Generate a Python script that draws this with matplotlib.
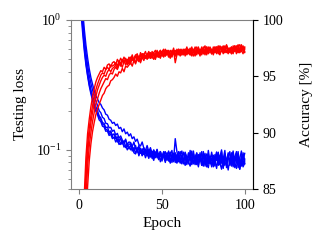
import numpy as np
import matplotlib
matplotlib.use("Agg")
import matplotlib.pyplot as plt

plt.rcParams['font.family'] = ['Liberation Serif', 'DejaVu Serif']
plt.rcParams['mathtext.fontset'] = 'stix'
plt.rcParams['font.size'] = 10

epochs = list(range(101))

# testing loss, five runs
loss_1 = [2.30, 1.30, 0.88, 0.62, 0.47, 0.38, 0.32, 0.28, 0.25, 0.225, 0.205,
          0.19, 0.178, 0.17, 0.158, 0.155, 0.144, 0.142, 0.133, 0.137, 0.126,
          0.124, 0.128, 0.115, 0.121, 0.11, 0.114, 0.117, 0.104, 0.109, 0.102,
          0.109, 0.098, 0.104, 0.094, 0.101, 0.092, 0.103, 0.09, 0.098, 0.093,
          0.099, 0.088, 0.097, 0.086, 0.095, 0.089, 0.1, 0.085, 0.093, 0.082,
          0.094, 0.097, 0.083, 0.091, 0.096, 0.08, 0.09, 0.095, 0.079, 0.092,
          0.084, 0.078, 0.096, 0.088, 0.077, 0.093, 0.083, 0.098, 0.078, 0.088,
          0.094, 0.076, 0.09, 0.082, 0.097, 0.075, 0.087, 0.093, 0.079, 0.086,
          0.074, 0.092, 0.083, 0.096, 0.077, 0.089, 0.072, 0.094, 0.08, 0.087,
          0.097, 0.076, 0.09, 0.079, 0.094, 0.073, 0.086, 0.098, 0.077, 0.085]
loss_2 = [2.10, 1.15, 0.80, 0.58, 0.45, 0.37, 0.31, 0.27, 0.24, 0.215, 0.198,
          0.186, 0.17, 0.165, 0.152, 0.15, 0.139, 0.14, 0.129, 0.132, 0.122,
          0.125, 0.115, 0.121, 0.11, 0.113, 0.117, 0.105, 0.109, 0.1, 0.106,
          0.1, 0.107, 0.095, 0.093, 0.104, 0.09, 0.099, 0.091, 0.097, 0.087,
          0.095, 0.086, 0.1, 0.089, 0.083, 0.096, 0.087, 0.094, 0.081, 0.091,
          0.088, 0.08, 0.095, 0.086, 0.079, 0.092, 0.084, 0.122, 0.097, 0.085,
          0.079, 0.09, 0.083, 0.076, 0.089, 0.081, 0.075, 0.087, 0.093, 0.078,
          0.085, 0.074, 0.091, 0.08, 0.075, 0.088, 0.078, 0.073, 0.086, 0.092,
          0.077, 0.084, 0.072, 0.088, 0.079, 0.071, 0.087, 0.076, 0.083, 0.07,
          0.085, 0.075, 0.091, 0.073, 0.08, 0.088, 0.071, 0.084, 0.074, 0.079]
loss_3 = [2.50, 1.45, 0.95, 0.66, 0.5, 0.4, 0.335, 0.29, 0.26, 0.235, 0.215,
          0.2, 0.183, 0.176, 0.162, 0.16, 0.148, 0.15, 0.137, 0.14, 0.129,
          0.133, 0.122, 0.126, 0.116, 0.123, 0.111, 0.115, 0.118, 0.106, 0.11,
          0.112, 0.101, 0.098, 0.108, 0.096, 0.104, 0.094, 0.102, 0.092, 0.1,
          0.09, 0.099, 0.088, 0.097, 0.086, 0.096, 0.091, 0.084, 0.097, 0.087,
          0.095, 0.083, 0.09, 0.098, 0.082, 0.089, 0.094, 0.08, 0.088, 0.097,
          0.082, 0.091, 0.078, 0.096, 0.086, 0.08, 0.099, 0.077, 0.09, 0.084,
          0.095, 0.079, 0.088, 0.076, 0.093, 0.085, 0.077, 0.099, 0.081, 0.076,
          0.091, 0.08, 0.096, 0.077, 0.088, 0.1, 0.075, 0.09, 0.082, 0.095,
          0.078, 0.092, 0.074, 0.088, 0.097, 0.079, 0.071, 0.09, 0.083, 0.094]
loss_4 = [2.60, 1.60, 1.05, 0.74, 0.56, 0.45, 0.375, 0.325, 0.288, 0.26, 0.237,
          0.22, 0.2, 0.193, 0.178, 0.174, 0.16, 0.159, 0.148, 0.149, 0.139,
          0.142, 0.13, 0.134, 0.123, 0.128, 0.119, 0.114, 0.121, 0.11, 0.115,
          0.114, 0.106, 0.115, 0.102, 0.099, 0.108, 0.097, 0.095, 0.104, 0.093,
          0.102, 0.092, 0.098, 0.089, 0.099, 0.087, 0.095, 0.086, 0.097, 0.084,
          0.096, 0.085, 0.094, 0.082, 0.092, 0.099, 0.081, 0.09, 0.08, 0.091,
          0.097, 0.083, 0.079, 0.094, 0.088, 0.078, 0.093, 0.082, 0.098, 0.077,
          0.089, 0.08, 0.095, 0.076, 0.086, 0.094, 0.074, 0.089, 0.079, 0.096,
          0.082, 0.075, 0.093, 0.088, 0.077, 0.097, 0.073, 0.088, 0.081, 0.092,
          0.076, 0.087, 0.098, 0.079, 0.072, 0.091, 0.084, 0.075, 0.095, 0.082]
loss_5 = [2.80, 1.80, 1.20, 0.85, 0.64, 0.51, 0.42, 0.36, 0.32, 0.285, 0.26,
          0.247, 0.23, 0.224, 0.21, 0.203, 0.188, 0.185, 0.172, 0.169, 0.16,
          0.163, 0.154, 0.158, 0.146, 0.149, 0.138, 0.145, 0.133, 0.137, 0.128,
          0.133, 0.122, 0.126, 0.116, 0.121, 0.11, 0.107, 0.115, 0.103, 0.099,
          0.108, 0.097, 0.104, 0.094, 0.1, 0.092, 0.101, 0.089, 0.097, 0.087,
          0.097, 0.088, 0.093, 0.084, 0.095, 0.086, 0.094, 0.083, 0.092, 0.081,
          0.09, 0.098, 0.082, 0.089, 0.079, 0.095, 0.086, 0.078, 0.093, 0.083,
          0.077, 0.092, 0.082, 0.097, 0.076, 0.087, 0.093, 0.078, 0.089, 0.074,
          0.088, 0.081, 0.096, 0.076, 0.091, 0.079, 0.085, 0.099, 0.073, 0.088,
          0.083, 0.095, 0.076, 0.089, 0.08, 0.097, 0.074, 0.086, 0.092, 0.078]

# test accuracy [%], same five runs
acc_1 = [40.0, 66.0, 78.5, 84.5, 87.8, 89.9, 91.2, 92.3, 93.2, 93.9, 94.5,
         94.9, 95.2, 95.5, 95.4, 95.8, 95.6, 96.0, 96.1, 95.8, 96.2,
         96.3, 96.0, 96.5, 96.2, 96.6, 96.3, 96.7, 96.4, 96.2, 96.7,
         96.5, 96.9, 96.4, 96.8, 97.0, 96.5, 97.1, 96.7, 96.9, 97.2,
         96.7, 97.1, 96.6, 97.2, 96.9, 96.6, 97.3, 97.0, 96.7, 97.2,
         97.4, 96.8, 97.1, 96.7, 97.3, 97.0, 97.5, 96.8, 97.2, 96.9,
         97.4, 97.0, 97.3, 96.8, 97.5, 97.1, 96.9, 97.6, 97.1, 97.3,
         96.9, 97.5, 97.1, 97.6, 97.0, 97.4, 96.9, 97.6, 97.3, 97.0,
         97.6, 97.1, 97.4, 97.7, 97.0, 97.3, 97.6, 97.1, 97.7, 97.2,
         97.5, 97.0, 97.7, 97.2, 97.5, 97.8, 97.1, 97.4, 97.7, 97.2]
acc_2 = [35.0, 60.0, 75.0, 82.5, 86.6, 88.9, 90.4, 91.5, 92.4, 93.1, 93.8,
         94.3, 94.7, 95.1, 95.3, 95.2, 95.6, 95.8, 95.6, 96.0, 95.9,
         96.0, 96.2, 95.9, 96.4, 96.1, 96.5, 96.2, 96.6, 96.3, 96.1,
         96.7, 96.4, 96.6, 96.9, 96.5, 96.8, 96.4, 97.0, 96.9, 96.6,
         96.9, 97.2, 96.7, 96.9, 97.1, 97.3, 96.7, 97.1, 97.3, 96.8,
         97.0, 97.4, 96.9, 97.2, 97.0, 96.8, 97.3, 96.2, 96.9, 97.4,
         97.2, 96.9, 97.4, 97.1, 97.6, 97.0, 97.3, 97.1, 96.8, 97.4,
         97.6, 97.1, 97.3, 96.9, 97.4, 97.7, 97.0, 97.3, 97.5, 97.0,
         97.3, 97.6, 97.1, 97.3, 97.7, 97.5, 97.0, 97.3, 97.8, 97.4,
         97.1, 97.6, 97.2, 97.5, 97.0, 97.6, 97.8, 97.2, 97.5, 97.4]
acc_3 = [30.0, 56.0, 72.5, 81.0, 85.6, 88.1, 89.7, 90.9, 91.8, 92.6, 93.2,
         93.8, 94.2, 94.6, 94.9, 95.1, 95.0, 95.4, 95.6, 95.4, 95.7,
         95.8, 96.0, 95.7, 96.2, 95.9, 96.3, 96.4, 96.0, 96.5, 96.3,
         96.1, 96.7, 96.4, 96.3, 96.8, 96.6, 96.3, 97.0, 96.6, 96.8,
         97.0, 96.6, 97.1, 96.8, 96.5, 97.0, 97.2, 96.7, 97.3, 96.9,
         96.7, 97.1, 97.3, 96.9, 96.6, 97.3, 97.0, 96.8, 97.4, 97.1,
         96.8, 97.3, 97.0, 97.4, 96.9, 97.2, 97.5, 97.0, 97.2, 96.8,
         97.4, 97.2, 96.8, 97.5, 97.0, 97.3, 97.6, 97.0, 97.2, 97.4,
         96.9, 97.4, 97.6, 97.1, 96.9, 97.4, 97.7, 97.1, 97.3, 97.0,
         97.4, 97.6, 97.1, 97.3, 97.7, 97.1, 97.5, 97.3, 97.0, 97.6]
acc_4 = [25.0, 50.0, 68.0, 78.5, 84.0, 87.0, 88.8, 90.0, 91.0, 91.8, 92.5,
         93.0, 93.5, 93.9, 94.2, 94.5, 94.8, 94.7, 95.1, 95.3, 95.2,
         95.6, 95.8, 95.6, 96.0, 96.1, 95.8, 96.3, 96.4, 96.0, 96.5,
         96.3, 96.6, 96.4, 96.8, 96.5, 96.3, 96.9, 96.6, 97.0, 96.6,
         96.8, 97.1, 96.9, 96.6, 97.1, 96.8, 97.2, 96.7, 97.0, 97.2,
         96.8, 97.0, 97.3, 97.1, 96.8, 97.1, 97.3, 96.9, 97.1, 97.4,
         97.1, 96.9, 97.3, 97.4, 97.0, 97.2, 96.9, 97.4, 97.2, 97.6,
         97.2, 97.0, 97.4, 97.2, 97.6, 97.0, 97.4, 97.1, 97.6, 97.3,
         97.1, 97.6, 97.0, 97.4, 97.6, 97.2, 97.3, 97.7, 97.1, 97.5,
         97.3, 97.0, 97.5, 97.7, 97.3, 97.1, 97.5, 97.8, 97.3, 97.1]
acc_5 = [20.0, 45.0, 64.0, 75.0, 81.5, 85.2, 87.5, 89.0, 90.1, 90.9, 91.6,
         92.1, 92.5, 92.9, 93.3, 93.5, 93.9, 94.1, 94.2, 94.6, 94.7,
         94.9, 95.2, 95.0, 95.4, 95.3, 95.7, 95.4, 95.9, 95.8, 96.0,
         96.2, 95.9, 96.4, 96.1, 96.5, 96.6, 96.2, 96.7, 96.4, 96.8,
         96.5, 96.9, 96.6, 97.0, 96.8, 96.5, 97.1, 96.9, 96.6, 97.1,
         97.2, 96.8, 97.0, 97.3, 96.9, 96.7, 97.2, 97.3, 96.9, 97.3,
         97.0, 97.4, 96.9, 97.2, 97.0, 97.4, 97.2, 96.8, 97.4, 97.0,
         97.2, 97.6, 97.0, 97.2, 97.4, 96.9, 97.6, 97.2, 97.4, 97.0,
         97.3, 97.1, 97.6, 97.0, 97.4, 97.6, 97.1, 97.3, 97.7, 97.1,
         97.5, 97.3, 97.0, 97.7, 97.3, 97.5, 97.1, 97.7, 97.3, 97.5]

losses = [loss_1, loss_2, loss_3, loss_4, loss_5]
accs = [acc_1, acc_2, acc_3, acc_4, acc_5]

fig = plt.figure(figsize=(3.32, 2.49), dpi=100)
ax = fig.add_axes([0.214, 0.241, 0.548, 0.679])
ax2 = ax.twinx()

for l in losses:
    ax.plot(epochs, l, color='blue', lw=1)
for a in accs:
    ax2.plot(epochs, a, color='red', lw=1)

ax.set_yscale('log')
ax.set_ylim(0.05, 1)
ax.set_xlim(-5, 105)
ax.set_xticks([0, 50, 100])
ax2.set_ylim(85, 100)
ax2.set_yticks([85, 90, 95, 100])

ax.set_xlabel('Epoch', fontsize=11)
ax.set_ylabel('Testing loss', fontsize=11, labelpad=6)
ax2.set_ylabel('Accuracy [%]', fontsize=11, labelpad=12)

for s in ax.spines.values():
    s.set_color('gray')
ax.tick_params(which='both', colors='gray', labelcolor='black')
for k in ['left', 'top', 'bottom']:
    ax2.spines[k].set_visible(False)
ax2.spines['right'].set_color('black')

fig.savefig('out.png', dpi=100)
